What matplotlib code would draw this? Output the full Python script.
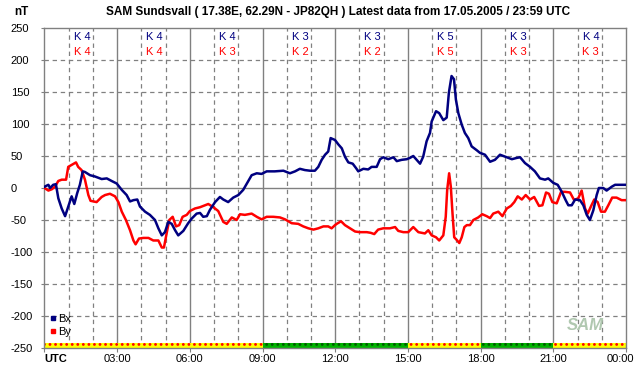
import matplotlib
matplotlib.use("Agg")
import matplotlib.pyplot as plt
import matplotlib.transforms as mtransforms
from matplotlib.lines import Line2D
import numpy as np

plt.rcParams["font.family"] = ["Liberation Sans", "DejaVu Sans"]
plt.rcParams["hatch.linewidth"] = 1.2

###
### data (hours UTC, nT)
###
bx_t = [0, 0.16, 0.23, 0.36, 0.47, 0.57, 0.71, 0.85, 0.98, 1.12, 1.23, 1.35, 1.46, 1.58, 1.67,
        1.88, 2.08, 2.36, 2.57, 2.77, 2.98, 3.19, 3.39, 3.53, 3.67, 3.83, 3.94, 4.15, 4.35, 4.56,
        4.7, 4.84, 4.97, 5.11, 5.25, 5.39, 5.52, 5.73, 5.93, 6.07, 6.28, 6.42, 6.55, 6.7, 6.83,
        7.04, 7.24, 7.38, 7.58, 7.79, 8.0, 8.2, 8.35, 8.55, 8.76, 8.96, 9.17, 9.5, 9.86, 10.13,
        10.34, 10.54, 10.75, 10.96, 11.16, 11.3, 11.44, 11.58, 11.71, 11.81, 11.99, 12.13, 12.27,
        12.4, 12.54, 12.72, 12.86, 12.95, 13.16, 13.36, 13.5, 13.71, 13.85, 13.98, 14.19, 14.4,
        14.54, 14.74, 14.95, 15.08, 15.22, 15.36, 15.5, 15.63, 15.77, 15.91, 15.98, 16.16, 16.29,
        16.46, 16.6, 16.69, 16.8, 16.9, 16.98, 17.08, 17.22, 17.35, 17.49, 17.63, 17.84, 17.97,
        18.18, 18.39, 18.59, 18.8, 19.08, 19.29, 19.49, 19.63, 19.83, 20.04, 20.24, 20.45, 20.66,
        20.79, 21.0, 21.18, 21.35, 21.51, 21.62, 21.76, 21.9, 22.1, 22.24, 22.38, 22.51, 22.65,
        22.79, 22.88, 23.06, 23.2, 23.41, 23.55, 23.82, 23.98]
bx = [2, 5, 0, 5, 6, -16, -32, -44, -29, -13, -25, -8, 5, 26, 25,
      20, 18, 14, 15, 11, 7, -3, -11, -21, -19, -18, -29, -37, -42, -50,
      -63, -74, -69, -53, -56, -66, -74, -67, -55, -48, -40, -39, -45, -44, -34,
      -22, -14, -18, -22, -15, -11, -3, 7, 20, 23, 22, 26, 26, 27, 23,
      26, 30, 28, 27, 27, 33, 44, 52, 57, 78, 75, 68, 62,
      49, 40, 38, 31, 26, 30, 29, 33, 33, 45, 48, 45, 48,
      42, 44, 45, 47, 50, 44, 38, 49, 73, 86, 104, 120, 117,
      106, 110, 149, 175, 170, 138, 117, 99, 86, 78, 65, 59, 55,
      52, 41, 44, 52, 48, 45, 47, 48, 39, 33, 26, 15, 13,
      15, 8, 5, -6, -19, -27, -27, -18, -19, -27, -42, -50, -35,
      -11, 0, 0, -4, 2, 5, 5, 5]

by_t = [0, 0.16, 0.3, 0.43, 0.57, 0.71, 0.89, 0.98, 1.12, 1.3, 1.39, 1.53, 1.67, 1.81, 1.9,
        2.15, 2.36, 2.5, 2.7, 2.91, 3.05, 3.19, 3.36, 3.53, 3.67, 3.76, 3.9, 4.08, 4.29, 4.49,
        4.7, 4.84, 4.93, 5.04, 5.15, 5.29, 5.43, 5.56, 5.7, 5.87, 6.0, 6.21, 6.42, 6.62, 6.76,
        6.97, 7.17, 7.38, 7.52, 7.73, 7.93, 8.07, 8.27, 8.55, 8.76, 8.96, 9.17, 9.44, 9.72, 9.93,
        10.2, 10.47, 10.68, 10.89, 11.1, 11.3, 11.51, 11.71, 11.85, 11.99, 12.06, 12.24, 12.4,
        12.61, 12.82, 13.02, 13.3, 13.46, 13.61, 13.77, 13.98, 14.26, 14.47, 14.6, 14.81, 15.01,
        15.22, 15.43, 15.7, 15.84, 15.98, 16.16, 16.29, 16.46, 16.56, 16.62, 16.7, 16.77, 16.84,
        16.91, 17.01, 17.12, 17.22, 17.33, 17.43, 17.56, 17.7, 17.9, 18.07, 18.25, 18.39, 18.52,
        18.73, 18.9, 19.08, 19.25, 19.39, 19.53, 19.7, 19.86, 20.04, 20.21, 20.41, 20.55, 20.7,
        20.82, 20.96, 21.14, 21.32, 21.48, 21.69, 21.86, 22.03, 22.17, 22.31, 22.42, 22.55, 22.69,
        22.83, 22.97, 23.13, 23.27, 23.43, 23.61, 23.82, 23.98]
by = [0, -4, -2, 2, 11, 13, 13, 33, 36, 40, 33, 28, 13, -11, -20,
      -22, -14, -11, -9, -13, -22, -37, -50, -66, -82, -88, -79, -78, -78, -82,
      -82, -93, -93, -71, -50, -45, -60, -58, -45, -42, -36, -32, -30, -27, -25,
      -30, -36, -53, -56, -46, -50, -41, -42, -40, -45, -49, -45, -45, -46, -49,
      -55, -56, -60, -63, -65, -63, -60, -60, -63, -58, -56, -52, -58,
      -63, -68, -69, -69, -70, -72, -65, -63, -63, -61, -67, -69, -69,
      -61, -69, -71, -66, -74, -77, -82, -74, -45, -3, 23, 2, -40,
      -77, -81, -86, -77, -61, -58, -58, -50, -46, -41, -44, -47, -40,
      -37, -44, -32, -28, -22, -13, -18, -11, -18, -14, -28, -27, -7,
      -9, -22, -24, -6, -6, -7, -19, -16, -4, -32, -40, -29, -18,
      -22, -37, -37, -27, -15, -15, -19, -19]

k_bx = [4, 4, 4, 3, 3, 5, 3, 4]
k_by = [4, 4, 3, 2, 2, 5, 3, 3]
x_labels = ["UTC", "03:00", "06:00", "09:00", "12:00", "15:00", "18:00", "21:00", "00:00"]
title = "SAM Sundsvall ( 17.38E, 62.29N - JP82QH ) Latest data from 17.05.2005 / 23:59 UTC"

navy = "#000080"
red = "#ff0000"
grey = "#808080"

fig = plt.figure(figsize=(6.42, 3.76), dpi=100)
ax = fig.add_axes([44.5 / 642, 28 / 376, 581.5 / 642, 320 / 376])
ax.set_xlim(0, 24)
ax.set_ylim(-250, 250)

# grid: solid every 3 h and at 0, dashed every hour and every 50 nT
dash = (0, (3.5, 3))
for h in range(1, 24):
    if h % 3 == 0:
        ax.axvline(h, color=grey, lw=1.0, zorder=1)
    else:
        ax.axvline(h, color=grey, lw=0.9, ls=dash, zorder=1)
for v in range(-200, 250, 50):
    if v == 0:
        ax.axhline(v, color=grey, lw=1.0, zorder=1)
    else:
        ax.axhline(v, color=grey, lw=0.9, ls=dash, zorder=1)

# activity band along the bottom
for i in range(8):
    kmax = max(k_bx[i], k_by[i])
    if kmax >= 4:
        fc, hc = "#ffff00", red
    else:
        fc, hc = "#00b400", "#005a00"
    ax.bar(3 * i, 8, width=3, bottom=-250, align="edge", facecolor=fc, edgecolor=hc,
           hatch="...", linewidth=0.01, zorder=2)

ax.plot(bx_t, bx, color=navy, lw=1.8, zorder=4)
ax.plot(by_t, by, color=red, lw=1.8, zorder=3)

# K indices
for i in range(8):
    ax.text(3 * i + 1.55, 236, f"K {k_bx[i]}", color=navy, ha="center", va="center", fontsize=8)
    ax.text(3 * i + 1.55, 213, f"K {k_by[i]}", color=red, ha="center", va="center", fontsize=8)

for s in ax.spines.values():
    s.set_color(grey)
    s.set_linewidth(1.0)

ax.set_xticks(range(0, 25, 3))
ax.set_xticklabels(x_labels, fontsize=8)
ax.set_yticks(range(-250, 251, 50))
ax.set_yticklabels([str(v) for v in range(-250, 251, 50)], fontsize=8, ha="left")
ax.tick_params(axis="x", length=3, color=grey, pad=1.5)
ax.tick_params(axis="y", length=2.2, color=grey, pad=22)
xl = ax.get_xticklabels()
xl[0].set_ha("left")
xl[0].set_fontweight("bold")
xl[-1].set_transform(xl[-1].get_transform() + mtransforms.ScaledTranslation(-0.06, 0, fig.dpi_scale_trans))

handles = [Line2D([], [], marker="s", ls="", color=navy, markersize=3, label="Bx"),
           Line2D([], [], marker="s", ls="", color=red, markersize=3, label="By")]
ax.legend(handles=handles, loc="lower left", bbox_to_anchor=(-0.005, 0.01), frameon=False,
          fontsize=8, handlelength=0.6, handletextpad=0.2, labelspacing=0.25, borderpad=0.2)

# small logo
ax.text(22.3, -215, "SAM", fontsize=12, style="italic", fontweight="bold", color="#b0c8b0",
        ha="center", va="center", zorder=5)

fig.text(338 / 642, 1 - 12 / 376, title, ha="center", va="center", fontsize=8.5, fontweight="bold")
fig.text(14 / 642, 1 - 12 / 376, "nT", ha="left", va="center", fontsize=8.5, fontweight="bold")

fig.savefig("out.png", dpi=100)
